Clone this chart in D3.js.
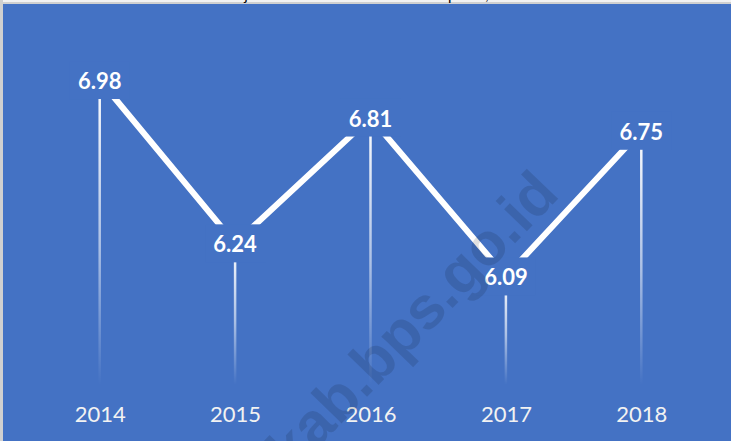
<!DOCTYPE html>
<html>
<head>
<meta charset="utf-8">
<script src="https://cdn.jsdelivr.net/npm/d3@7"></script>
<style>
  html, body { margin: 0; padding: 0; background: #ffffff; }
  svg { display: block; }
</style>
</head>
<body>
<svg id="chart" width="731" height="441"></svg>
<script>
// Annual values, 2014–2018
const years = ["2014", "2015", "2016", "2017", "2018"];
const values = [6.98, 6.24, 6.81, 6.09, 6.75];
const valueLabels = ["6.98", "6.24", "6.81", "6.09", "6.75"];
const yDomain = [5.6, 7.0];
const titleText = "Laju Pertumbuhan Ekonomi Kabupaten, 2014–2018";
const watermarkText = "kab.bps.go.id";

const W = 731, H = 441;
const blue = "#4472C4";
const svg = d3.select("#chart");

// frame and plot background
svg.append("rect").attr("x", 0).attr("y", 0).attr("width", W).attr("height", H).attr("fill", "#f2f2f2");
svg.append("rect").attr("x", 0).attr("y", 2).attr("width", W).attr("height", 3).attr("fill", "#d0d0d0");
svg.append("rect").attr("x", 0).attr("y", 0).attr("width", 3).attr("height", H).attr("fill", "#d0d0d0");
svg.append("rect").attr("x", 3).attr("y", 4).attr("width", W - 3).attr("height", H - 4).attr("fill", blue);

// title, mostly above the visible area
svg.append("text")
  .attr("x", 400).attr("y", -0.5)
  .attr("text-anchor", "middle")
  .attr("font-family", "Lato, 'Open Sans', sans-serif")
  .attr("font-size", 15)
  .attr("fill", "#000")
  .text(titleText);

const x = d3.scalePoint().domain(years).range([32, 709]).padding(0.5);
const y = d3.scaleLinear().domain(yDomain).range([384.6, 75.6]);

const data = years.map((yr, i) => ({ year: yr, value: values[i], label: valueLabels[i] }));

// fading drop lines
const defs = svg.append("defs");
const grad = defs.append("linearGradient")
  .attr("id", "dropFade")
  .attr("x1", 0).attr("y1", 0).attr("x2", 0).attr("y2", 1);
grad.append("stop").attr("offset", "0%").attr("stop-color", "#fff").attr("stop-opacity", 1);
grad.append("stop").attr("offset", "55%").attr("stop-color", "#fff").attr("stop-opacity", 0.55);
grad.append("stop").attr("offset", "100%").attr("stop-color", "#fff").attr("stop-opacity", 0);

svg.append("g").selectAll("rect")
  .data(data)
  .join("rect")
  .attr("x", d => x(d.year) - 1.25)
  .attr("y", d => y(d.value))
  .attr("width", 2.5)
  .attr("height", d => y(yDomain[0]) - y(d.value))
  .attr("fill", "url(#dropFade)");

// series line
const line = d3.line().x(d => x(d.year)).y(d => y(d.value));
svg.append("path")
  .datum(data)
  .attr("d", line)
  .attr("fill", "none")
  .attr("stroke", "#fff")
  .attr("stroke-width", 6)
  .attr("stroke-linejoin", "miter");

// data labels with plot-coloured backing
const labels = svg.append("g").selectAll("g")
  .data(data)
  .join("g")
  .attr("transform", d => `translate(${x(d.year)},${y(d.value)})`);

labels.append("rect")
  .attr("x", -30).attr("y", -19)
  .attr("width", 60).attr("height", 38)
  .attr("fill", blue);

labels.append("text")
  .attr("text-anchor", "middle")
  .attr("y", 9)
  .attr("font-family", "Lato, 'Open Sans', sans-serif")
  .attr("font-weight", "bold")
  .attr("font-size", 22)
  .attr("fill", "#fff")
  .text(d => d.label);

// category axis
const axis = svg.append("g")
  .attr("transform", "translate(0,0)")
  .call(d3.axisBottom(x).tickSize(0));
axis.select(".domain").remove();
axis.selectAll("text")
  .attr("y", 421.5)
  .attr("dy", null)
  .attr("font-family", "Lato, 'Open Sans', sans-serif")
  .attr("font-size", 22)
  .attr("fill", "#f2f2f2");

// site watermark
svg.append("text")
  .attr("transform", "translate(561,196) rotate(-46)")
  .attr("text-anchor", "end")
  .attr("font-family", "'Liberation Sans', Arial, sans-serif")
  .attr("font-weight", "bold")
  .attr("font-size", 60)
  .attr("fill", "#000")
  .attr("fill-opacity", 0.12)
  .text(watermarkText);
</script>
</body>
</html>
